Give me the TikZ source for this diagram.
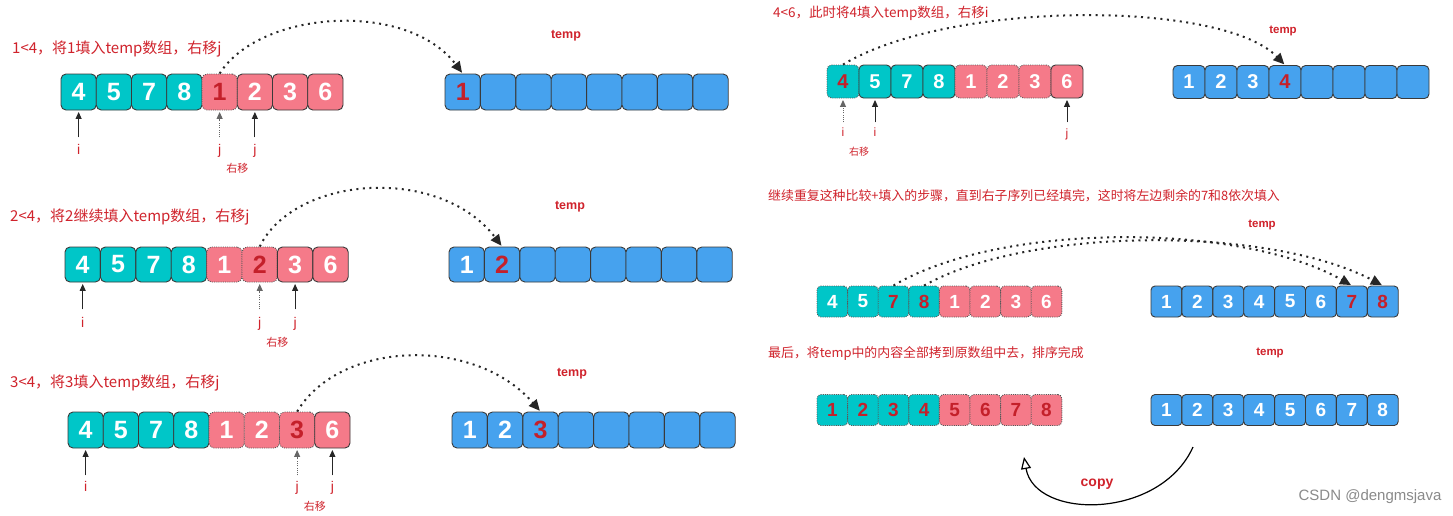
\documentclass[tikz,border=0pt]{standalone}
\usepackage{fontspec}
\setmainfont{Liberation Sans}
\newfontfamily\cjk{Noto Sans CJK SC}
\usetikzlibrary{arrows.meta,calc}
\definecolor{tealc}{HTML}{00C6C8}
\definecolor{pinkc}{HTML}{F57A89}
\definecolor{bluec}{HTML}{46A2EE}
\definecolor{edgec}{HTML}{3A3A3A}
\definecolor{labred}{HTML}{D0232C}
\definecolor{digred}{HTML}{C4202A}
\definecolor{wmgray}{HTML}{8A8A8A}
\newcommand\digA{\fontsize{25}{25}\selectfont\bfseries}
\newcommand\digB{\fontsize{20}{20}\selectfont\bfseries}
\newcommand\digC{\fontsize{19}{19}\selectfont\bfseries}
\newcommand\cellrow[8]{%
  \foreach \v/\f/\t/\b [count=\k] in {#8}{%
    \node[cell,\b,fill=\f,text=\t,minimum width=#4pt,minimum height=#5pt,font=#6,rounded corners=#7pt]
      (#1\k) at ({#2+(\k-0.5)*#4},#3) {\v};
  }%
}
\tikzset{
  cell/.style={rectangle, inner sep=0pt, line width=0.9pt},
  solb/.style={draw=edgec},
  dotb/.style={draw=edgec!85, dash pattern=on 1pt off 1.2pt},
  lab/.style={anchor=west, inner sep=0pt, text=labred, font=\cjk\fontsize{15}{16}\selectfont},
  labs/.style={anchor=west, inner sep=0pt, text=labred, font=\cjk\fontsize{12.9}{14}\selectfont},
  tmp/.style={inner sep=0pt, text=labred, font=\bfseries\fontsize{12.5}{13}\selectfont},
  tmps/.style={inner sep=0pt, text=labred, font=\bfseries\fontsize{11.5}{12}\selectfont},
  ptr/.style={draw=black!85, line width=1pt, -{Triangle[length=7pt,width=6pt]}, shorten >=1.5pt},
  ptrd/.style={ptr, draw=black!60, dash pattern=on 1pt off 1.3pt},
  ijlab/.style={inner sep=0pt, text=labred, font=\fontsize{14}{14}\selectfont, text height=10pt, text depth=3pt},
  ijlabs/.style={inner sep=0pt, text=labred, font=\fontsize{12}{12}\selectfont, text height=9pt, text depth=2.5pt},
  yy/.style={inner sep=0pt, text=labred, font=\cjk\fontsize{11}{11}\selectfont},
  yys/.style={inner sep=0pt, text=labred, font=\cjk\fontsize{10}{10}\selectfont},
  arc/.style={draw=black!85, line width=2pt, dash pattern=on 2pt off 4.5pt, -{Triangle[length=11pt,width=10pt]}, shorten >=1pt},
  copyarr/.style={draw=black, line width=1.2pt, -{Triangle[open,length=12pt,width=10pt,line width=1.2pt]}},
  copylab/.style={inner sep=0pt, text=labred, font=\bfseries\fontsize{14}{14}\selectfont},
  wm/.style={inner sep=0pt, text=wmgray, font=\fontsize{15}{15}\selectfont}
}
\begin{document}
\begin{tikzpicture}[x=1pt,y=-1pt]
\useasboundingbox (0,0) rectangle (1453,515);
\fill[white] (0,0) rectangle (1453,515);

% ---------- Panel A ----------
\node[lab] (LA) at (12,49) {1<4，将1填入temp数组，右移j};
\node[tmp] (TmA) at (566,36) {temp};
\cellrow{A}{61}{92}{35.25}{36}{\digA}{5}{4/tealc/white/solb,5/tealc/white/solb,7/tealc/white/solb,8/tealc/white/solb,1/pinkc/digred/dotb,2/pinkc/white/solb,3/pinkc/white/solb,6/pinkc/white/solb}
\cellrow{TA}{445}{92}{35.4}{36}{\digA}{5}{1/bluec/digred/solb,{}/bluec/white/solb,{}/bluec/white/solb,{}/bluec/white/solb,{}/bluec/white/solb,{}/bluec/white/solb,{}/bluec/white/solb,{}/bluec/white/solb}
\coordinate (Ai) at ([yshift=-27pt]A1.south);
\coordinate (Aj1) at ([yshift=-27pt]A5.south);
\coordinate (Aj2) at ([yshift=-27pt]A6.south);
\draw[ptr] (Ai) -- (A1.south);
\draw[ptrd] (Aj1) -- (A5.south);
\draw[ptr] (Aj2) -- (A6.south);
\node[ijlab] (Ail) at ([yshift=-14pt]Ai) {i};
\node[ijlab] (Aj1l) at ([yshift=-14pt]Aj1) {j};
\node[ijlab] (Aj2l) at ([yshift=-14pt]Aj2) {j};
\node[yy] (Ayy) at ($(Aj1l)!0.5!(Aj2l)+(0,17)$) {右移};
\draw[arc] (A5.north) .. controls (260,10) and (407,0) .. (TA1.north);

% ---------- Panel B ----------
\node[lab] (LB) at (10,217) {2<4，将2继续填入temp数组，右移j};
\node[tmp] (TmB) at (570,207) {temp};
\cellrow{B}{65}{264.5}{35.4}{35}{\digA}{5}{4/tealc/white/solb,5/tealc/white/solb,7/tealc/white/solb,8/tealc/white/solb,1/pinkc/white/dotb,2/pinkc/digred/dotb,3/pinkc/white/solb,6/pinkc/white/solb}
\cellrow{TB}{449}{264.5}{35.4}{35}{\digA}{5}{1/bluec/white/solb,2/bluec/digred/solb,{}/bluec/white/solb,{}/bluec/white/solb,{}/bluec/white/solb,{}/bluec/white/solb,{}/bluec/white/solb,{}/bluec/white/solb}
\coordinate (Bi) at ([yshift=-27pt]B1.south);
\coordinate (Bj1) at ([yshift=-27pt]B6.south);
\coordinate (Bj2) at ([yshift=-27pt]B7.south);
\draw[ptr] (Bi) -- (B1.south);
\draw[ptrd] (Bj1) -- (B6.south);
\draw[ptr] (Bj2) -- (B7.south);
\node[ijlab] (Bil) at ([yshift=-15pt]Bi) {i};
\node[ijlab] (Bj1l) at ([yshift=-15pt]Bj1) {j};
\node[ijlab] (Bj2l) at ([yshift=-15pt]Bj2) {j};
\node[yy] (Byy) at ($(Bj1l)!0.5!(Bj2l)+(0,18)$) {右移};
\draw[arc] (B6.north) .. controls (295,175) and (440,165) .. (TB2.north);

% ---------- Panel C ----------
\node[lab] (LC) at (10,383) {3<4，将3填入temp数组，右移j};
\node[tmp] (TmC) at (572,374) {temp};
\cellrow{C}{68}{430}{35.25}{36}{\digA}{5}{4/tealc/white/solb,5/tealc/white/solb,7/tealc/white/solb,8/tealc/white/solb,1/pinkc/white/dotb,2/pinkc/white/dotb,3/pinkc/digred/dotb,6/pinkc/white/solb}
\cellrow{TC}{452}{430}{35.4}{36}{\digA}{5}{1/bluec/white/solb,2/bluec/white/solb,3/bluec/digred/solb,{}/bluec/white/solb,{}/bluec/white/solb,{}/bluec/white/solb,{}/bluec/white/solb,{}/bluec/white/solb}
\coordinate (Ci) at ([yshift=-27pt]C1.south);
\coordinate (Cj1) at ([yshift=-27pt]C7.south);
\coordinate (Cj2) at ([yshift=-27pt]C8.south);
\draw[ptr] (Ci) -- (C1.south);
\draw[ptrd] (Cj1) -- (C7.south);
\draw[ptr] (Cj2) -- (C8.south);
\node[ijlab] (Cil) at ([yshift=-13pt]Ci) {i};
\node[ijlab] (Cj1l) at ([yshift=-13pt]Cj1) {j};
\node[ijlab] (Cj2l) at ([yshift=-13pt]Cj2) {j};
\node[yy] (Cyy) at ($(Cj1l)!0.5!(Cj2l)+(0,18)$) {右移};
\draw[arc] (C7.north) .. controls (340,340) and (475,336) .. (TC3.north);

% ---------- Panel D ----------
\node[labs,font=\cjk\fontsize{13.5}{14}\selectfont] (LD) at (773,13) {4<6，此时将4填入temp数组，右移i};
\node[tmps] (TmD) at (1283,31) {temp};
\cellrow{D}{827}{81.5}{32}{33}{\digB}{4.5}{4/tealc/digred/dotb,5/tealc/white/solb,7/tealc/white/solb,8/tealc/white/solb,1/pinkc/white/dotb,2/pinkc/white/dotb,3/pinkc/white/dotb,6/pinkc/white/solb}
\cellrow{TD}{1173}{82}{32}{33}{\digB}{4.5}{1/bluec/white/solb,2/bluec/white/solb,3/bluec/white/solb,4/bluec/digred/solb,{}/bluec/white/solb,{}/bluec/white/solb,{}/bluec/white/solb,{}/bluec/white/solb}
\coordinate (Di1) at ([yshift=-24pt]D1.south);
\coordinate (Di2) at ([yshift=-24pt]D2.south);
\coordinate (Dj) at ([yshift=-24pt]D8.south);
\draw[ptrd] (Di1) -- (D1.south);
\draw[ptr] (Di2) -- (D2.south);
\draw[ptr] (Dj) -- (D8.south);
\node[ijlabs] (Di1l) at ([yshift=-11pt]Di1) {i};
\node[ijlabs] (Di2l) at ([yshift=-11pt]Di2) {i};
\node[ijlabs] (Djl) at ([yshift=-12pt]Dj) {j};
\node[yys] (Dyy) at ($(Di1l)!0.5!(Di2l)+(0,18)$) {右移};
\draw[arc] (D1.north) .. controls (950,0) and (1222,0) .. (TD4.north);

% ---------- Panel E ----------
\node[labs] (LE) at (768,196) {继续重复这种比较+填入的步骤，直到右子序列已经填完，这时将左边剩余的7和8依次填入};
\node[tmps] (TmE) at (1262,225) {temp};
\cellrow{E}{817}{301.5}{30.6}{31}{\digC}{4}{4/tealc/white/dotb,5/tealc/white/dotb,7/tealc/digred/dotb,8/tealc/digred/dotb,1/pinkc/white/dotb,2/pinkc/white/dotb,3/pinkc/white/dotb,6/pinkc/white/dotb}
\cellrow{TE}{1151}{301.5}{30.9}{31}{\digC}{4}{1/bluec/white/solb,2/bluec/white/solb,3/bluec/white/solb,4/bluec/white/solb,5/bluec/white/solb,6/bluec/white/solb,7/bluec/digred/solb,8/bluec/digred/solb}
\draw[arc] (E3.north) .. controls (1000,222) and (1240,222) .. (TE7.north);
\draw[arc] (E4.north) .. controls (1030,226) and (1270,226) .. (TE8.north);

% ---------- Panel F ----------
\node[labs] (LF) at (768,353) {最后，将temp中的内容全部拷到原数组中去，排序完成};
\node[tmps] (TmF) at (1270,353) {temp};
\cellrow{F}{817}{410}{30.6}{31}{\digC}{4}{1/tealc/digred/dotb,2/tealc/digred/dotb,3/tealc/digred/dotb,4/tealc/digred/dotb,5/pinkc/digred/dotb,6/pinkc/digred/dotb,7/pinkc/digred/dotb,8/pinkc/digred/dotb}
\cellrow{TF}{1151}{410}{30.9}{31}{\digC}{4}{1/bluec/white/solb,2/bluec/white/solb,3/bluec/white/solb,4/bluec/white/solb,5/bluec/white/solb,6/bluec/white/solb,7/bluec/white/solb,8/bluec/white/solb}
\coordinate (cpS) at (1193,447);
\coordinate (cpE) at (1024,457);
\draw[copyarr] (cpS) .. controls (1160,520) and (1035,520) .. (cpE);
\node[copylab] (cpL) at (1097,484) {copy};
\node[wm] (wmk) at (1370,497) {CSDN @dengmsjava};
\end{tikzpicture}
\end{document}
